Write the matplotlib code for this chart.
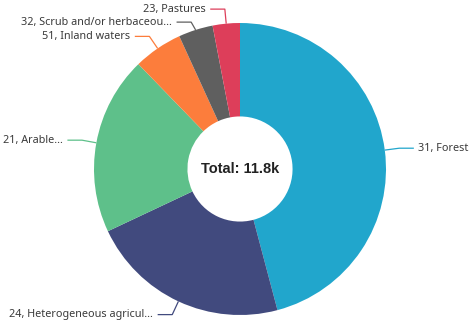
import matplotlib.pyplot as plt
import numpy as np

# Land cover classes, largest first, drawn clockwise from 12 o'clock
codes = [31, 24, 21, 51, 32, 23]
names = [
    "Forests",
    "Heterogeneous agricul...",
    "Arable...",
    "Inland waters",
    "Scrub and/or herbaceou...",
    "Pastures",
]
areas = [5410, 2610, 2330, 640, 450, 355]
colors = ["#21a6cc", "#414a7e", "#5ec08a", "#fc7d3c", "#5f5f5f", "#dd3e5a"]

W, H, DPI = 469, 326, 100
CX, CY, R = 240, 169, 146  # pie centre and radius in pixels
INNER = 0.36

fig = plt.figure(figsize=(W / DPI, H / DPI), dpi=DPI)
ax = fig.add_axes([0, 0, 1, 1])

wedges, _ = ax.pie(
    areas,
    colors=colors,
    startangle=90,
    counterclock=False,
    radius=1.0,
    wedgeprops=dict(width=1 - INNER, linewidth=0),
)
ax.set_xlim(-CX / R, (W - CX) / R)
ax.set_ylim((CY - H) / R, CY / R)
ax.set_aspect("equal")
ax.axis("off")

total = sum(areas)
ax.text(0, 0, f"Total: {total / 1000:.1f}k", ha="center", va="center",
        fontsize=10.5, fontweight="bold", color="#222222",
        family=["Liberation Sans", "DejaVu Sans"])

# leader lines + labels, nudging labels apart vertically on each side
elbow_r = 1.1
seg = 0.1
gap = 0.03
min_dy = 13 / R

labels = []
for w, code, name, col in zip(wedges, codes, names, colors):
    ang = np.deg2rad((w.theta1 + w.theta2) / 2)
    x0, y0 = np.cos(ang), np.sin(ang)
    ex, ey = elbow_r * x0, elbow_r * y0
    side = "right" if x0 >= 0 else "left"
    labels.append([side, x0, y0, ex, ey, f"{code}, {name}", col])

for side in ("left", "right"):
    items = sorted([l for l in labels if l[0] == side], key=lambda l: -l[4])
    prev = None
    for item in items:
        if prev is not None and prev - item[4] < min_dy:
            item[4] = prev - min_dy
        prev = item[4]

for side, x0, y0, ex, ey, text, col in labels:
    sign = 1 if side == "right" else -1
    hx = ex + sign * seg
    ax.plot([x0, ex, hx], [y0, ey, ey], color=col, lw=0.9,
            solid_capstyle="butt", clip_on=False)
    ax.text(hx + sign * gap, ey, text, ha="left" if sign > 0 else "right",
            va="center", fontsize=7.8, color="#3a3a3a",
            family=["Noto Sans", "DejaVu Sans"])

fig.savefig("out.png", dpi=DPI)
